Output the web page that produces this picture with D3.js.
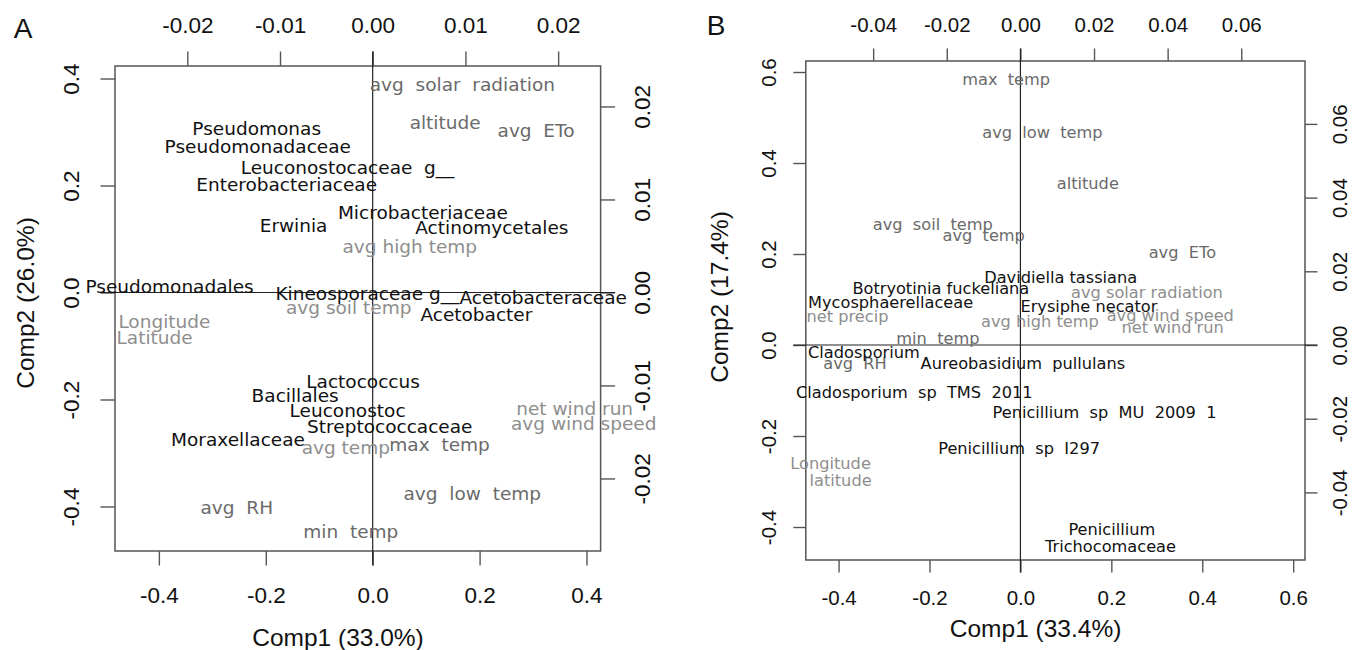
<!DOCTYPE html>
<html><head><meta charset="utf-8">
<script src="https://cdn.jsdelivr.net/npm/d3@7"></script>
<style>
html,body{margin:0;padding:0;background:#fff;}
svg text.lbl{white-space:pre;}
</style></head><body>
<svg id="chart" width="1355" height="650"></svg>
<script>
// ---------------- DATA ----------------
// Panel A: taxa (black) on Comp1/Comp2 axes (bottom/left)
const taxaA = [
  {name:"Pseudomonas", comp1:-0.217, comp2:0.306},
  {name:"Pseudomonadaceae", comp1:-0.215, comp2:0.272},
  {name:"Leuconostocaceae  g__", comp1:-0.047, comp2:0.233},
  {name:"Enterobacteriaceae", comp1:-0.161, comp2:0.201},
  {name:"Microbacteriaceae", comp1:0.094, comp2:0.150},
  {name:"Erwinia", comp1:-0.148, comp2:0.126},
  {name:"Actinomycetales", comp1:0.223, comp2:0.122},
  {name:"Pseudomonadales", comp1:-0.380, comp2:0.012},
  {name:"Kineosporaceae g__", comp1:-0.010, comp2:-0.001},
  {name:"Acetobacteraceae", comp1:0.319, comp2:-0.010},
  {name:"Acetobacter", comp1:0.194, comp2:-0.042},
  {name:"Lactococcus", comp1:-0.018, comp2:-0.167},
  {name:"Bacillales", comp1:-0.145, comp2:-0.193},
  {name:"Leuconostoc", comp1:-0.047, comp2:-0.221},
  {name:"Streptococcaceae", comp1:0.032, comp2:-0.250},
  {name:"Moraxellaceae", comp1:-0.252, comp2:-0.274}
];
// Panel A: environmental variables (grey) on secondary axes (top/right)
const envA = [
  {name:"avg  solar  radiation", v1:0.00967, v2:0.02231},
  {name:"altitude", v1:0.00781, v2:0.01823},
  {name:"avg  ETo", v1:0.01762, v2:0.01737},
  {name:"avg high temp", v1:0.00400, v2:0.00489},
  {name:"avg soil temp", v1:-0.00259, v2:-0.00167},
  {name:"Longitude", v1:-0.02247, v2:-0.00317},
  {name:"Latitude", v1:-0.02353, v2:-0.00489},
  {name:"avg temp", v1:-0.00290, v2:-0.01672},
  {name:"max  temp", v1:0.00721, v2:-0.01640},
  {name:"net wind run", v1:0.02178, v2:-0.01253},
  {name:"avg wind speed", v1:0.02276, v2:-0.01414},
  {name:"avg  low  temp", v1:0.01074, v2:-0.02167},
  {name:"avg  RH", v1:-0.01466, v2:-0.02317},
  {name:"min  temp", v1:-0.00236, v2:-0.02575}
];
// Panel B: taxa
const taxaB = [
  {name:"Davidiella tassiana", comp1:0.0887, comp2:0.1495},
  {name:"Botryotinia fuckeliana", comp1:-0.1751, comp2:0.1253},
  {name:"Mycosphaerellaceae", comp1:-0.2855, comp2:0.0945},
  {name:"Erysiphe necator", comp1:0.1507, comp2:0.0857},
  {name:"Cladosporium", comp1:-0.3443, comp2:-0.0154},
  {name:"Aureobasidium  pullulans", comp1:0.0055, comp2:-0.0396},
  {name:"Cladosporium  sp  TMS  2011", comp1:-0.2334, comp2:-0.1033},
  {name:"Penicillium  sp  MU  2009  1", comp1:0.1850, comp2:-0.1473},
  {name:"Penicillium  sp  I297", comp1:-0.0029, comp2:-0.2264},
  {name:"Penicillium", comp1:0.2011, comp2:-0.4044},
  {name:"Trichocomaceae", comp1:0.1982, comp2:-0.4418}
];
// Panel B: environmental variables
const envB = [
  {name:"max  temp", v1:-0.00386, v2:0.07218},
  {name:"avg  low  temp", v1:0.00598, v2:0.05780},
  {name:"altitude", v1:0.01831, v2:0.04396},
  {name:"avg  soil  temp", v1:-0.02380, v2:0.03284},
  {name:"avg  temp", v1:-0.00997, v2:0.02985},
  {name:"avg  ETo", v1:0.04401, v2:0.02524},
  {name:"avg solar radiation", v1:0.03439, v2:0.01438},
  {name:"net precip", v1:-0.04697, v2:0.00787},
  {name:"avg wind speed", v1:0.04072, v2:0.00814},
  {name:"avg high temp", v1:0.00530, v2:0.00651},
  {name:"net wind run", v1:0.04135, v2:0.00488},
  {name:"min  temp", v1:-0.02241, v2:0.00190},
  {name:"avg  RH", v1:-0.04493, v2:-0.00488},
  {name:"Longitude", v1:-0.05156, v2:-0.03202},
  {name:"latitude", v1:-0.04885, v2:-0.03663}
];
// Tick values
const ticksA_comp1 = [-0.4,-0.2,0,0.2,0.4];
const ticksA_comp2 = [-0.4,-0.2,0,0.2,0.4];
const ticksA_top   = [-0.02,-0.01,0,0.01,0.02];
const ticksA_right = [-0.02,-0.01,0,0.01,0.02];
const ticksB_comp1 = [-0.4,-0.2,0,0.2,0.4,0.6];
const ticksB_comp2 = [-0.4,-0.2,0,0.2,0.4,0.6];
const ticksB_top   = [-0.04,-0.02,0,0.02,0.04,0.06];
const ticksB_right = [-0.04,-0.02,0,0.02,0.04,0.06];
const titlesA = {letter:"A", x:"Comp1 (33.0%)", y:"Comp2 (26.0%)"};
const titlesB = {letter:"B", x:"Comp1 (33.4%)", y:"Comp2 (17.4%)"};

// ---------------- STYLE / LAYOUT ----------------
const lighterVars = new Set(["avg high temp","avg soil temp","Longitude","Latitude","latitude","avg temp",
  "net wind run","avg wind speed","avg solar radiation","net precip"]);
const COL_TAXA = "#111", COL_ENV = "#6a6a6a", COL_ENV_LIGHT = "#8e8e8e";
const TICK_FONT = "'Liberation Sans', Arial, Helvetica, sans-serif";
const LBL_FONT = "'DejaVu Sans', Verdana, sans-serif";

const svg = d3.select("#chart");

function drawPanel(cfg) {
  const {l, r, t, b} = cfg.box;
  const x = d3.scaleLinear().domain(cfg.xlim).range([l, r]);
  const y = d3.scaleLinear().domain(cfg.ylim).range([b, t]);
  const x2 = d3.scaleLinear().domain(cfg.x2lim).range([l, r]);
  const y2 = d3.scaleLinear().domain(cfg.y2lim).range([b, t]);
  const g = svg.append("g");
  const f1 = d => d.toFixed(1), f2 = d => d.toFixed(2);

  function styleAxis(ax, off, orient) {
    ax.select(".domain").remove();
    ax.selectAll(".tick line").attr("stroke", "#555").attr("stroke-width", 1.4);
    const tx = ax.selectAll(".tick text")
      .attr("fill", "#111").style("font-family", TICK_FONT).style("font-size", cfg.tickFont + "px")
      .attr("dy", "0.35em").attr("text-anchor", "middle");
    if (orient === "bottom") tx.attr("x", 0).attr("y", off);
    if (orient === "top") tx.attr("x", 0).attr("y", -off);
    if (orient === "left") tx.attr("x", 0).attr("y", 0).attr("transform", `translate(${-off},0) rotate(-90)`);
    if (orient === "right") tx.attr("x", 0).attr("y", 0).attr("transform", `translate(${off},0) rotate(-90)`);
  }
  const tl = cfg.tickLen;
  g.append("g").attr("transform", `translate(0,${b})`)
    .call(d3.axisBottom(x).tickValues(cfg.ticks.bottom).tickFormat(f1).tickSize(tl))
    .call(a => styleAxis(a, cfg.lblOff.bottom, "bottom"));
  g.append("g").attr("transform", `translate(${l},0)`)
    .call(d3.axisLeft(y).tickValues(cfg.ticks.left).tickFormat(f1).tickSize(tl))
    .call(a => styleAxis(a, cfg.lblOff.left, "left"));
  g.append("g").attr("transform", `translate(0,${t})`)
    .call(d3.axisTop(x2).tickValues(cfg.ticks.top).tickFormat(f2).tickSize(tl))
    .call(a => styleAxis(a, cfg.lblOff.top, "top"));
  g.append("g").attr("transform", `translate(${r},0)`)
    .call(d3.axisRight(y2).tickValues(cfg.ticks.right).tickFormat(f2).tickSize(tl))
    .call(a => styleAxis(a, cfg.lblOff.right, "right"));

  // box
  g.append("rect").attr("x", l).attr("y", t).attr("width", r - l).attr("height", b - t)
    .attr("fill", "none").attr("stroke", "#555").attr("stroke-width", 1.5);
  // zero lines
  g.append("line").attr("x1", x(0)).attr("x2", x(0)).attr("y1", t - tl).attr("y2", b + tl)
    .attr("stroke", "#222").attr("stroke-width", 1.2);
  g.append("line").attr("x1", l - tl).attr("x2", r + tl).attr("y1", y(0)).attr("y2", y(0))
    .attr("stroke", "#222").attr("stroke-width", 1.2);

  // env labels
  g.selectAll("text.env").data(cfg.env).join("text").attr("class", "lbl env")
    .attr("x", d => x2(d.v1)).attr("y", d => y2(d.v2)).attr("dy", "0.35em")
    .attr("text-anchor", "middle").attr("xml:space", "preserve")
    .style("font-family", LBL_FONT).style("font-size", cfg.lblFont + "px")
    .attr("fill", d => lighterVars.has(d.name) ? COL_ENV_LIGHT : COL_ENV)
    .text(d => d.name);
  // taxa labels
  g.selectAll("text.taxa").data(cfg.taxa).join("text").attr("class", "lbl taxa")
    .attr("x", d => x(d.comp1)).attr("y", d => y(d.comp2)).attr("dy", "0.35em")
    .attr("text-anchor", "middle").attr("xml:space", "preserve")
    .style("font-family", LBL_FONT).style("font-size", cfg.lblFont + "px")
    .attr("fill", COL_TAXA)
    .text(d => d.name);

  // titles
  g.append("text").attr("x", cfg.xTitlePos[0]).attr("y", cfg.xTitlePos[1]).attr("dy", "0.35em")
    .attr("text-anchor", "middle").style("font-family", TICK_FONT).style("font-size", cfg.titleFont + "px")
    .attr("fill", "#111").text(cfg.titles.x);
  g.append("text").attr("transform", `translate(${cfg.yTitlePos[0]},${cfg.yTitlePos[1]}) rotate(-90)`)
    .attr("dy", "0.35em").attr("text-anchor", "middle")
    .style("font-family", TICK_FONT).style("font-size", cfg.titleFont + "px")
    .attr("fill", "#111").text(cfg.titles.y);
  g.append("text").attr("x", cfg.letterPos[0]).attr("y", cfg.letterPos[1])
    .attr("text-anchor", "middle").style("font-family", TICK_FONT).style("font-size", "28px")
    .attr("fill", "#111").text(cfg.titles.letter);
}

drawPanel({
  box: {l:115, r:600.6, t:66, b:551},
  xlim: [-0.4821, 0.4264], ylim: [-0.4832, 0.4234],
  x2lim: [-0.02780, 0.02458], y2lim: [-0.02780, 0.02435],
  ticks: {bottom: ticksA_comp1, left: ticksA_comp2, top: ticksA_top, right: ticksA_right},
  tickLen: 14.5, tickFont: 22.5, lblFont: 18.5, titleFont: 24.5,
  lblOff: {bottom: 44, left: 43.5, top: 41, right: 41.5},
  taxa: taxaA, env: envA, titles: titlesA,
  xTitlePos: [338, 637], yTitlePos: [25, 303], letterPos: [23, 38]
});
drawPanel({
  box: {l:805.8, r:1305, t:61, b:560},
  xlim: [-0.4721, 0.6260], ylim: [-0.4725, 0.6242],
  x2lim: [-0.05830, 0.07732], y2lim: [-0.05834, 0.07707],
  ticks: {bottom: ticksB_comp1, left: ticksB_comp2, top: ticksB_top, right: ticksB_right},
  tickLen: 12.5, tickFont: 20.5, lblFont: 16.2, titleFont: 24.5,
  lblOff: {bottom: 38, left: 37.3, top: 36, right: 35},
  taxa: taxaB, env: envB, titles: titlesB,
  xTitlePos: [1035.6, 628], yTitlePos: [719.7, 297], letterPos: [716, 35]
});
</script>
</body></html>
